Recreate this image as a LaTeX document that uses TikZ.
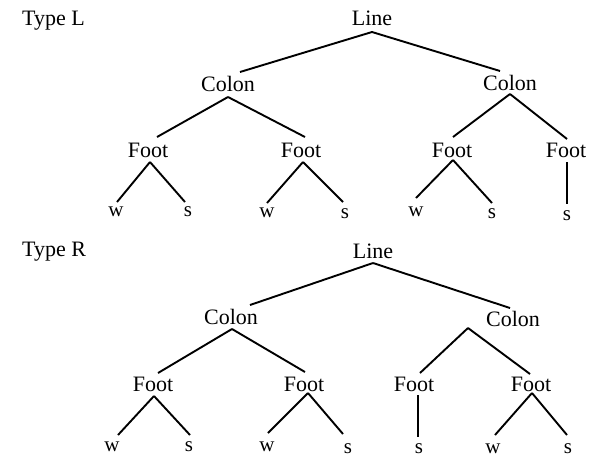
\documentclass[tikz,border=0pt]{standalone}
\usepackage{fontspec}
\setmainfont{Liberation Serif}
\usetikzlibrary{calc}
\begin{document}
\begin{tikzpicture}[x=1pt,y=-1pt,
  lab/.style={anchor=base,inner sep=0pt,font=\fontsize{22}{26}\selectfont},
  leaf/.style={anchor=base,inner sep=0pt,font=\fontsize{21}{25}\selectfont},
  edge/.style={line width=1.9pt}]
\useasboundingbox (0,0) rectangle (594,456);
\fill[white] (0,0) rectangle (594,456);

% ---------- Type L ----------
\node[lab,anchor=base west] (tL) at (22,25) {Type L};
\node[lab] (L1) at (372,25) {Line};
\node[lab] (C1) at (228,91) {Colon};
\node[lab] (C2) at (510,90) {Colon};
\node[lab] (F1) at (148,157) {Foot};
\node[lab] (F2) at (301,157) {Foot};
\node[lab] (F3) at (452,157) {Foot};
\node[lab] (F4) at (566,157) {Foot};
\node[leaf] (w1) at (116,216) {w};
\node[leaf] (s1) at (188,216) {s};
\node[leaf] (w2) at (267,217) {w};
\node[leaf] (s2) at (345,218) {s};
\node[leaf] (w3) at (416,216) {w};
\node[leaf] (s3) at (492,218) {s};
\node[leaf] (s4) at (567,220) {s};

\draw[edge] ($(L1.base)+(0,7)$) -- ($(C1.base)+(12,-19)$);
\draw[edge] ($(L1.base)+(0,7)$) -- ($(C2.base)+(-10,-19)$);
\draw[edge] ($(C1.base)+(0,6)$) -- ($(F1.base)+(9,-20)$);
\draw[edge] ($(C1.base)+(0,6)$) -- ($(F2.base)+(4,-20)$);
\draw[edge] ($(C2.base)+(0,4)$) -- ($(F3.base)+(1,-20)$);
\draw[edge] ($(C2.base)+(0,4)$) -- ($(F4.base)+(1,-18)$);
\draw[edge] ($(F1.base)+(2,5)$) -- ($(w1.base)+(1,-14)$);
\draw[edge] ($(F1.base)+(2,5)$) -- ($(s1.base)+(-3,-14)$);
\draw[edge] ($(F2.base)+(2,5)$) -- ($(w2.base)+(0,-14)$);
\draw[edge] ($(F2.base)+(2,5)$) -- ($(s2.base)+(-2,-16)$);
\draw[edge] ($(F3.base)+(1,3)$) -- ($(w3.base)+(0,-18)$);
\draw[edge] ($(F3.base)+(1,3)$) -- ($(s3.base)+(0,-15)$);
\draw[edge] ($(F4.base)+(1,5)$) -- ($(s4.base)+(0,-16)$);

% ---------- Type R ----------
\node[lab,anchor=base west] (tR) at (22,256) {Type R};
\node[lab] (L2) at (373,258) {Line};
\node[lab] (C3) at (231,324) {Colon};
\node[lab] (C4) at (513,326) {Colon};
\node[lab] (F5) at (153,391) {Foot};
\node[lab] (F6) at (304,391) {Foot};
\node[lab] (F7) at (414,391) {Foot};
\node[lab] (F8) at (531,391) {Foot};
\node[leaf] (w5) at (112,451) {w};
\node[leaf] (s5) at (189,451) {s};
\node[leaf] (w6) at (267,451) {w};
\node[leaf] (s6) at (348,453) {s};
\node[leaf] (s7) at (419,453) {s};
\node[leaf] (w8) at (493,453) {w};
\node[leaf] (s8) at (568,453) {s};

\draw[edge] ($(L2.base)+(0,5)$) -- ($(C3.base)+(19,-19)$);
\draw[edge] ($(L2.base)+(0,5)$) -- ($(C4.base)+(-3,-18)$);
\draw[edge] ($(C3.base)+(1,5)$) -- ($(F5.base)+(5,-18)$);
\draw[edge] ($(C3.base)+(1,5)$) -- ($(F6.base)+(1,-19)$);
\draw[edge] ($(C4.base)+(-45,2)$) -- ($(F7.base)+(6,-18)$);
\draw[edge] ($(C4.base)+(-45,2)$) -- ($(F8.base)+(-1,-17)$);
\draw[edge] ($(F5.base)+(1,5)$) -- ($(w5.base)+(6,-16)$);
\draw[edge] ($(F5.base)+(1,5)$) -- ($(s5.base)+(1,-16)$);
\draw[edge] ($(F6.base)+(4,2)$) -- ($(w6.base)+(1,-18)$);
\draw[edge] ($(F6.base)+(4,2)$) -- ($(s6.base)+(-5,-19)$);
\draw[edge] ($(F7.base)+(4,4)$) -- ($(s7.base)+(-1,-16)$);
\draw[edge] ($(F8.base)+(1,2)$) -- ($(w8.base)+(2,-18)$);
\draw[edge] ($(F8.base)+(1,2)$) -- ($(s8.base)+(-1,-18)$);
\end{tikzpicture}
\end{document}
